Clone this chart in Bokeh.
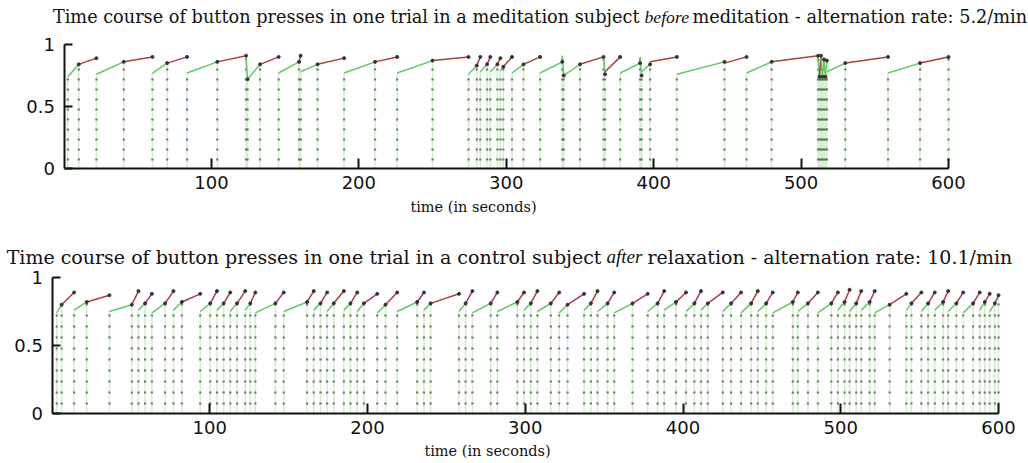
from bokeh.plotting import figure
from bokeh.layouts import column
from bokeh.models import FixedTicker, Label, ColumnDataSource, Range1d
from bokeh.transform import factor_cmap
from bokeh.embed import file_html
from bokeh.resources import INLINE

# ---------------- data ----------------
x_ticks = [100, 200, 300, 400, 500, 600]
y_ticks = [0, 0.5, 1]
y_tick_labels = {0: "0", 0.5: "0.5", 1: "1"}
percepts = ["A", "B"]

title1_parts = ["Time course of button presses in one trial in a meditation subject",
                "before", "meditation - alternation rate: 5.2/min"]
title2_parts = ["Time course of button presses in one trial in a control subject",
                "after", "relaxation - alternation rate: 10.1/min"]
x_label = "time (in seconds)"

# panel 1: switch times (s), and for each period: percept, start / end level
p1_switch = [2.6, 10, 22, 40.5, 60, 70, 83.5, 104, 123.5, 124.5, 133, 145.6, 159.5, 160.5,
             172, 190, 211, 226, 250, 274.4, 280, 282.4, 287, 289.2, 294, 296, 298, 303.9,
             311.7, 323, 338, 339, 350, 366, 367, 377.3, 390.8, 391.8, 397.6, 415.7, 448,
             463, 480, 511.5, 512.5, 513.5, 514.5, 515.5, 516.5, 517.5, 530, 559, 580.7, 600]
p1_state = list("ABABABABAABABABABABABABABABABAAABABAAABABABABAAAAABAB")
p1_y0 = [0.74, 0.84, 0.76, 0.86, 0.77, 0.85, 0.77, 0.86, 0.91, 0.72, 0.84, 0.77, 0.86,
         0.78, 0.84, 0.77, 0.86, 0.77, 0.87, 0.76, 0.83, 0.78, 0.84, 0.78, 0.84, 0.79,
         0.82, 0.77, 0.84, 0.77, 0.91, 0.75, 0.84, 0.90, 0.78, 0.77, 0.90, 0.78, 0.86,
         0.76, 0.85, 0.77, 0.86, 0.90, 0.74, 0.91, 0.74, 0.88, 0.74, 0.78, 0.85, 0.77, 0.85]
p1_y1 = [0.84, 0.89, 0.86, 0.90, 0.85, 0.90, 0.86, 0.91, 0.72, 0.84, 0.90, 0.86, 0.91,
         0.84, 0.89, 0.86, 0.90, 0.87, 0.90, 0.83, 0.90, 0.84, 0.90, 0.84, 0.89, 0.82,
         0.90, 0.84, 0.90, 0.86, 0.75, 0.84, 0.90, 0.76, 0.90, 0.85, 0.75, 0.84, 0.90,
         0.86, 0.90, 0.86, 0.91, 0.74, 0.91, 0.74, 0.88, 0.74, 0.87, 0.85, 0.90, 0.85, 0.90]

# panel 2
p2_switch = [3, 6.1, 14, 22, 36.4, 50.6, 54.8, 59, 63.3, 71.7, 77, 82.3, 94, 100.3, 104.6,
             108.8, 113, 117.3, 122.5, 125.7, 128.9, 141.6, 146.9, 161.7, 165.9, 170.2, 174.4,
             178.6, 185, 189.2, 193.5, 197.7, 206.2, 211.4, 218.8, 231.5, 235.8, 240, 258,
             262.2, 266.5, 278.1, 282.3, 295, 299.2, 303.5, 307.7, 316.2, 321.5, 326.8, 337.3,
             341.6, 345.8, 352.2, 356.4, 368, 377.6, 383.9, 388.1, 395.6, 401.9, 407.2, 411.4,
             415.7, 425.2, 430.5, 436.8, 443.2, 447.4, 452.7, 456.9, 469.6, 472.8, 479.2, 485.5,
             494, 498.2, 502.4, 505.6, 509.8, 513, 518.3, 521.5, 531, 541.6, 544.8, 551.1,
             555.4, 559.6, 564.9, 568.1, 573.3, 577.6, 583.9, 588.1, 591.3, 594.4, 597.7, 600]
p2_state = list("AB" "AB" "AB" "AB" "AB" "AB" "AB" "AB" "AB" "AB" "AB" "AB" "AB" "AB" "AB"
                "AB" "AB" "AB" "AB" "AB" "AB" "AB" "AB" "AB" "AB" "AB" "AB" "AB" "AB" "AB"
                "AB" "AB" "AB" "AB" "AB" "AB" "AB" "AB" "AB" "AB" "AB" "AB" "AB" "AB" "AB"
                "AB" "AB" "AB" "AB")
p2_y0 = [0.74, 0.80, 0.76, 0.82, 0.75, 0.80, 0.76, 0.81, 0.74, 0.81, 0.76, 0.82, 0.75, 0.81,
         0.76, 0.81, 0.75, 0.81, 0.76, 0.81, 0.74, 0.81, 0.75, 0.82, 0.76, 0.81, 0.75, 0.81,
         0.76, 0.81, 0.75, 0.81, 0.74, 0.80, 0.75, 0.82, 0.76, 0.81, 0.75, 0.81, 0.74, 0.81,
         0.75, 0.82, 0.76, 0.81, 0.75, 0.81, 0.74, 0.80, 0.76, 0.81, 0.75, 0.81, 0.74, 0.81,
         0.75, 0.81, 0.76, 0.82, 0.75, 0.81, 0.76, 0.81, 0.75, 0.81, 0.74, 0.81, 0.75, 0.81,
         0.74, 0.82, 0.75, 0.81, 0.74, 0.81, 0.76, 0.82, 0.75, 0.81, 0.76, 0.82, 0.74, 0.80,
         0.76, 0.81, 0.75, 0.81, 0.76, 0.82, 0.75, 0.81, 0.74, 0.81, 0.76, 0.82, 0.75, 0.81]
p2_y1 = [0.80, 0.89, 0.82, 0.87, 0.80, 0.90, 0.81, 0.88, 0.81, 0.90, 0.82, 0.88, 0.81, 0.90,
         0.81, 0.89, 0.81, 0.90, 0.81, 0.89, 0.81, 0.89, 0.82, 0.90, 0.81, 0.89, 0.81, 0.90,
         0.81, 0.89, 0.81, 0.88, 0.80, 0.89, 0.82, 0.89, 0.81, 0.88, 0.81, 0.90, 0.81, 0.89,
         0.82, 0.89, 0.81, 0.90, 0.81, 0.89, 0.80, 0.88, 0.81, 0.90, 0.81, 0.89, 0.81, 0.88,
         0.81, 0.90, 0.82, 0.89, 0.81, 0.90, 0.81, 0.89, 0.81, 0.89, 0.81, 0.90, 0.81, 0.89,
         0.82, 0.89, 0.81, 0.89, 0.81, 0.89, 0.82, 0.91, 0.81, 0.90, 0.82, 0.90, 0.80, 0.88,
         0.81, 0.89, 0.81, 0.89, 0.82, 0.90, 0.81, 0.89, 0.81, 0.89, 0.82, 0.88, 0.81, 0.87]

# ---------------- styling / layout ----------------
GREEN = "#62c862"
RED = "#a8403a"
DOT = "#5e7e5e"
FAINT = "#d2efcc"
SERIF = "DejaVu Serif"
ITALIC_SERIF = "Liberation Serif"
SANS = "DejaVu Sans"
W = 1028


def make_panel(switch, state, y0, y1, title_parts, title_px, title_base, title_size,
               xlabel_px, height, x0_px, x600_px, y1_px, y0_px, dash):
    # px values are relative to this canvas's top-left corner
    sx = (x600_px - x0_px) / 600.0
    sy = (y0_px - y1_px) / 1.0
    xr = Range1d(-x0_px / sx, (W - x0_px) / sx)
    yr = Range1d(-(height - y0_px) / sy, y0_px / sy)
    p = figure(width=W, height=height, min_border=0, x_range=xr, y_range=yr,
               output_backend="svg", toolbar_location=None, tools="")
    p.background_fill_color = "white"
    p.border_fill_color = "white"
    p.outline_line_color = None
    p.grid.visible = False

    def dx(px):
        return (px - x0_px) / sx

    def dy(py):
        return (y0_px - py) / sy

    n = len(state)
    seg = ColumnDataSource(dict(t0=switch[:n], t1=switch[1:n + 1], y0=y0, y1=y1, state=state))
    tops = list(y0) + [y1[-1]]
    cols = ColumnDataSource(dict(t=switch, top=tops, base=[0] * len(switch)))

    p.segment(x0="t", y0="base", x1="t", y1="top", source=cols,
              line_color=FAINT, line_width=1.5)
    p.segment(x0="t", y0="base", x1="t", y1="top", source=cols,
              line_color=DOT, line_width=2.2, line_dash=dash, line_dash_offset=2)
    p.segment(x0="t0", y0="y0", x1="t1", y1="y1", source=seg, line_width=1.5,
              line_color=factor_cmap("state", [GREEN, RED], percepts))
    p.scatter(x="t1", y="y1", source=seg, size=3, color="#333333")

    for ax in (p.xaxis[0], p.yaxis[0]):
        ax.fixed_location = 0
        ax.axis_line_width = 2
        ax.axis_line_color = "#111111"
        ax.major_tick_line_width = 2
        ax.major_tick_line_color = "#111111"
        ax.major_tick_out = 0
        ax.minor_tick_line_color = None
        ax.major_label_text_font = SANS
        ax.major_label_text_font_size = "18px"
        ax.major_label_text_color = "#111111"
    p.xaxis.bounds = (0, 600)
    p.xaxis.ticker = FixedTicker(ticks=x_ticks)
    p.xaxis.major_tick_in = 10
    p.xaxis.major_label_standoff = 7
    p.yaxis.bounds = (0, 1)
    p.yaxis.ticker = FixedTicker(ticks=y_ticks)
    p.yaxis.major_label_overrides = y_tick_labels
    p.yaxis.major_tick_in = 8
    p.yaxis.major_label_standoff = 9

    fonts = [SERIF, ITALIC_SERIF, SERIF]
    styles = ["normal", "italic", "normal"]
    aligns = ["right", "left", "left"]
    for txt, tx, fnt, st, al in zip(title_parts, title_px, fonts, styles, aligns):
        p.add_layout(Label(x=dx(tx), y=dy(title_base), text=txt, text_font=fnt,
                           text_font_size=title_size, text_font_style=st,
                           text_color="#111111", text_baseline="alphabetic",
                           text_align=al))
    p.add_layout(Label(x=dx(xlabel_px[0]), y=dy(xlabel_px[1]), text=x_label,
                       text_font=SERIF, text_font_size="14.5px", text_color="#111111",
                       text_baseline="alphabetic", text_align="center"))
    return p


# canvas 1 spans page y 0..234, canvas 2 spans page y 234..462
p1 = make_panel(p1_switch, p1_state, p1_y0, p1_y1, title1_parts,
                [639, 644, 692], 16, "17.7px", (473, 206),
                234, 63.5, 948, 44, 168, "2 8")
p2 = make_panel(p2_switch, p2_state, p2_y0, p2_y1, title2_parts,
                [601, 606, 647], 22, "19px", (487, 216),
                228, 51.5, 998, 43, 179, "2 9")

layout = column(p1, p2, spacing=0)
open("out.html", "w").write(file_html(layout, INLINE))
